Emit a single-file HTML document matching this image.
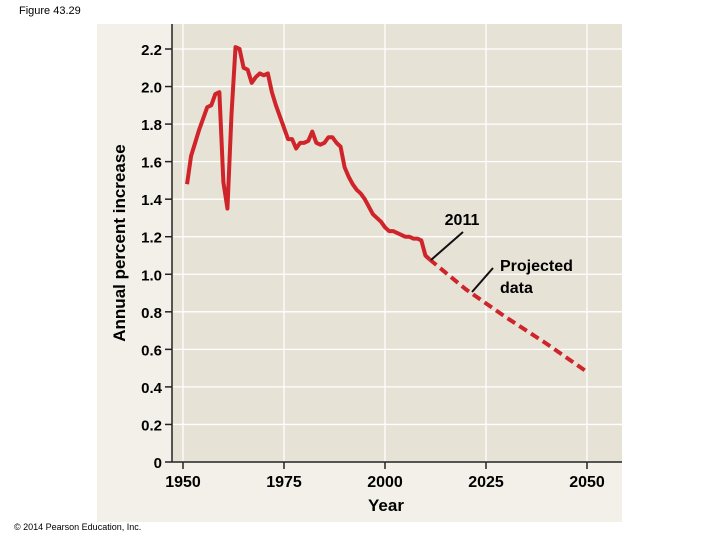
<!DOCTYPE html>
<html><head><meta charset="utf-8"><style>
body{margin:0;width:720px;height:540px;background:#fff;overflow:hidden;font-family:"Liberation Sans",sans-serif}
</style></head><body>
<svg width="720" height="540" xmlns="http://www.w3.org/2000/svg" font-family="Liberation Sans, sans-serif">
<text x="19" y="14" font-size="11">Figure 43.29</text>
<rect x="97" y="24" width="525" height="498" fill="#f2f0e8"/>
<rect x="172" y="24" width="450" height="438" fill="#e6e2d6"/>
<g id="grid"></g>
<line x1="172" y1="24" x2="172" y2="462" stroke="#222" stroke-width="1.5"/>
<line x1="172" y1="462" x2="622" y2="462" stroke="#222" stroke-width="1.5"/>
<g id="ticks"></g>
<g id="series"></g>
<text x="125" y="243" font-size="17" font-weight="bold" text-anchor="middle" transform="rotate(-90 125 243)">Annual percent increase</text>
<text x="386" y="511" font-size="17" font-weight="bold" text-anchor="middle">Year</text>
<text x="462" y="225" font-size="16" font-weight="bold" text-anchor="middle">2011</text>
<line x1="463" y1="232" x2="431" y2="260" stroke="#111" stroke-width="2"/>
<text x="500" y="271" font-size="16" font-weight="bold">Projected</text>
<text x="500" y="293" font-size="16" font-weight="bold">data</text>
<line x1="493" y1="268" x2="472" y2="292" stroke="#111" stroke-width="2"/>
<text x="14" y="530" font-size="9">© 2014 Pearson Education, Inc.</text>
</svg>
<script>
const yTicks=[0,0.2,0.4,0.6,0.8,1.0,1.2,1.4,1.6,1.8,2.0,2.2];
const yTickLabels=["0","0.2","0.4","0.6","0.8","1.0","1.2","1.4","1.6","1.8","2.0","2.2"];
const xTicks=[1950,1975,2000,2025,2050];
const histYears=[1951,1952,1953,1954,1955,1956,1957,1958,1959,1960,1961,1962,1963,1964,1965,1966,1967,1968,1969,1970,1971,1972,1973,1974,1975,1976,1977,1978,1979,1980,1981,1982,1983,1984,1985,1986,1987,1988,1989,1990,1991,1992,1993,1994,1995,1996,1997,1998,1999,2000,2001,2002,2003,2004,2005,2006,2007,2008,2009,2010,2011];
const histValues=[1.48,1.63,1.70,1.77,1.83,1.89,1.90,1.96,1.97,1.49,1.35,1.85,2.21,2.20,2.10,2.09,2.02,2.05,2.07,2.06,2.07,1.97,1.90,1.84,1.78,1.72,1.72,1.67,1.70,1.70,1.71,1.76,1.70,1.69,1.70,1.73,1.73,1.70,1.68,1.57,1.52,1.48,1.45,1.43,1.40,1.36,1.32,1.30,1.28,1.25,1.23,1.23,1.22,1.21,1.20,1.20,1.19,1.19,1.18,1.10,1.08];
const projYears=[2011,2020,2030,2040,2050];
const projValues=[1.08,0.92,0.77,0.63,0.48];
const X=y=>183+(y-1950)*(404/100);
const Y=v=>462-v*(413/2.2);
const NS="http://www.w3.org/2000/svg";
const grid=document.getElementById('grid'),ticks=document.getElementById('ticks'),series=document.getElementById('series');
function mk(tag,attrs,parent){const e=document.createElementNS(NS,tag);for(const k in attrs)e.setAttribute(k,attrs[k]);parent.appendChild(e);return e;}
yTicks.forEach((v,i)=>{
  if(v>0){const g=mk('line',{x1:172,x2:622,y1:Y(v),y2:Y(v),stroke:'#fff','stroke-width':1.3},grid);
  
  }
  const t=mk('line',{x1:165,x2:172,y1:Y(v),y2:Y(v),stroke:'#222','stroke-width':1.5},ticks);
  
  
  const l=mk('text',{x:162,y:Y(v)+6,'font-size':15,'font-weight':'bold','text-anchor':'end'},ticks);
  l.textContent=yTickLabels[i];
  
  
});
xTicks.forEach(yr=>{
  const g=mk('line',{x1:X(yr),x2:X(yr),y1:24,y2:462,stroke:'#fff','stroke-width':1.3},grid);
  
  
  const t=mk('line',{x1:X(yr),x2:X(yr),y1:462,y2:469,stroke:'#222','stroke-width':1.5},ticks);
  
  
  const l=mk('text',{x:X(yr),y:487,'font-size':16,'font-weight':'bold','text-anchor':'middle'},ticks);
  l.textContent=String(yr);
  
  
});
const h=mk('polyline',{points:histYears.map((y,i)=>X(y)+','+Y(histValues[i])).join(' '),fill:'none',stroke:'#d0242b','stroke-width':4,'stroke-linejoin':'round'},series);


const p=mk('polyline',{points:projYears.map((y,i)=>X(y)+','+Y(projValues[i])).join(' '),fill:'none',stroke:'#d0242b','stroke-width':4,'stroke-dasharray':'9,5'},series);


</script>
</body></html>
